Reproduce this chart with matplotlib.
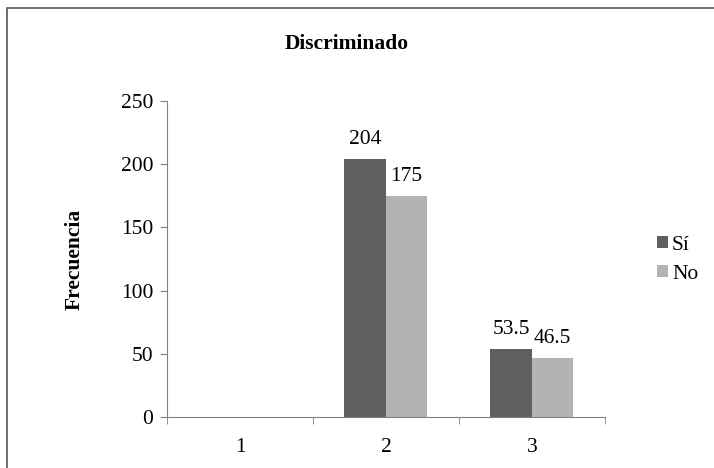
import numpy as np
import matplotlib.pyplot as plt
from matplotlib.patches import Rectangle

plt.rcParams['font.family'] = ['Liberation Serif', 'DejaVu Serif']
FS = 15.5

categories = ['1', '2', '3']
si_values = [0, 204, 53.5]
no_values = [0, 175, 46.5]
si_labels = ['', '204', '53.5']
no_labels = ['', '175', '46.5']

fig = plt.figure(figsize=(7.14, 4.68), dpi=100)
ax = fig.add_axes([0.234, 0.109, 0.613, 0.675])

# outer chart border (clipped at right/bottom edges)
fig.patches.append(Rectangle((7 / 714, -0.05), 1.0, 1 - 8 / 468 + 0.05,
                             transform=fig.transFigure, fill=False,
                             edgecolor='#555555', linewidth=1.2))

x = np.arange(len(categories))
w = 0.285
bars_si = ax.bar(x - w / 2, si_values, w, color='#5f5f5f', label='Sí')
bars_no = ax.bar(x + w / 2, no_values, w, color='#b3b3b3', label='No')

for bars, labels in ((bars_si, si_labels), (bars_no, no_labels)):
    for b, t in zip(bars, labels):
        if t:
            ax.text(b.get_x() + b.get_width() / 2, b.get_height() + 8, t,
                    ha='center', va='bottom', fontsize=FS)

ax.set_xlim(-0.5, 2.5)
ax.set_ylim(0, 250)
ax.set_yticks([0, 50, 100, 150, 200, 250])
ax.set_xticks(x)
ax.set_xticklabels(categories)
ax.set_xticks([-0.5, 0.5, 1.5, 2.5], minor=True)
ax.tick_params(axis='x', which='major', length=0, pad=15, labelsize=FS)
ax.tick_params(axis='x', which='minor', length=5, color='#808080')
ax.tick_params(axis='y', length=5, color='#808080', labelsize=FS, pad=5)
for s in ['top', 'right']:
    ax.spines[s].set_visible(False)
for s in ['left', 'bottom']:
    ax.spines[s].set_color('#808080')

ax.set_ylabel('Frecuencia', fontsize=FS, fontweight='bold', labelpad=26)
fig.text(0.485, 0.905, 'Discriminado', ha='center', va='center',
         fontsize=FS, fontweight='bold')

fig.legend(handles=[bars_si, bars_no], labels=['Sí', 'No'],
           loc='center left', bbox_to_anchor=(0.908, 0.445), frameon=False,
           fontsize=FS, handlelength=0.5, handleheight=0.5,
           handletextpad=0.2, labelspacing=0.45, borderaxespad=0)

fig.savefig('out.png', dpi=100)
